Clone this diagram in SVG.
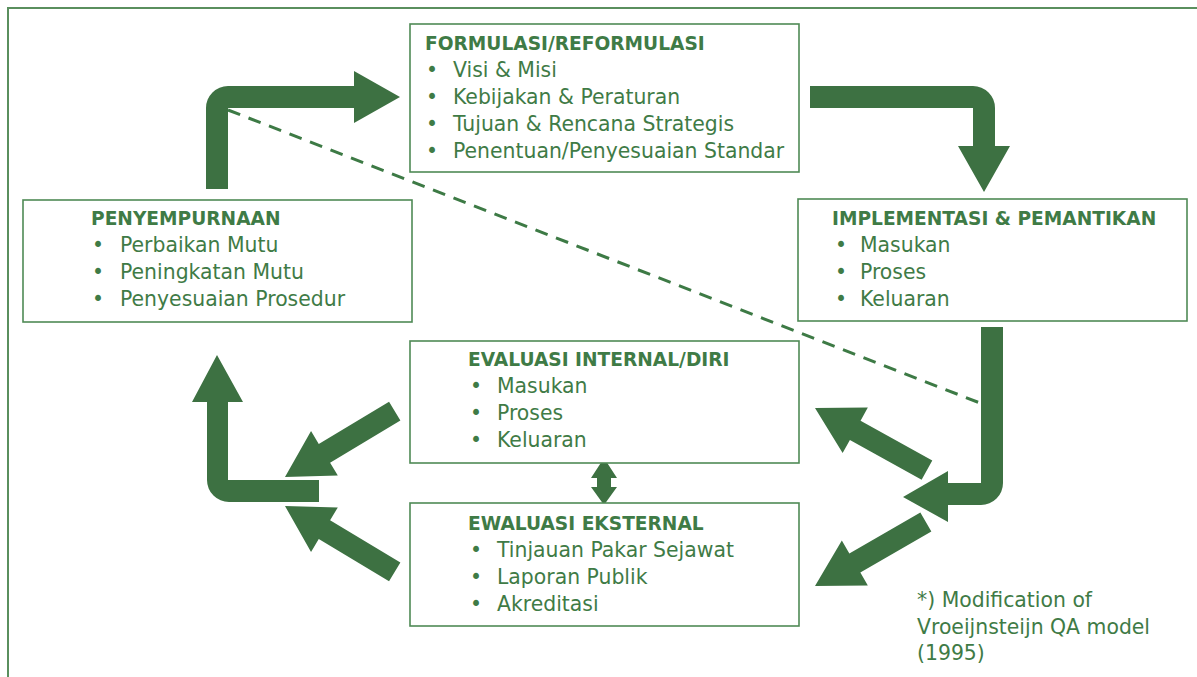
<svg xmlns="http://www.w3.org/2000/svg" width="1197" height="677" viewBox="0 0 1197 677">
<style>
.frame{fill:none;stroke:#5a8f5e;stroke-width:2}
.box{fill:#fff;stroke:#4f8a55;stroke-width:1.6}
.arrow{fill:#3d7142}
.dash{fill:none;stroke:#3d7a45;stroke-width:3;stroke-dasharray:13 9}
text{font-family:"DejaVu Sans",Verdana,sans-serif;fill:#3f7b46;font-size:20.4px}
.t{font-weight:bold;font-size:18.6px}
</style>
<rect width="1197" height="677" fill="#fff"/>
<path class="frame" d="M8,677 V8 H1197"/>
<g id="connectors">
<path class="dash" d="M228,110 L980,403"/>
<path class="arrow" d="M206,189 V108 A22,22 0 0 1 228,86 H354 V71 L400,97 L354,123 V108 H228 V189 Z"/>
<path class="arrow" d="M810,86 H973 A22,22 0 0 1 995,108 V146 H1010 L984,192 L958,146 H973 V108 H810 Z"/>
<path class="arrow" d="M981,327 H1003 V483 A22,22 0 0 1 981,505 H948 V522 L903,497 L948,471 V483 H981 Z"/>
<path class="arrow" d="M319,480 H228 V402 H243 L217,355 L192,402 H207 V480 A22,22 0 0 0 229,502 H319 Z"/>
<path class="arrow" d="M-128,-11 H-46 V-26 L0,0 L-46,26 V11 H-128 Z" transform="translate(815,408) rotate(209)"/>
<path class="arrow" d="M-128,-11 H-46 V-26 L0,0 L-46,26 V11 H-128 Z" transform="translate(815,586) rotate(150)"/>
<path class="arrow" d="M-128,-11 H-46 V-26 L0,0 L-46,26 V11 H-128 Z" transform="translate(285,477) rotate(149)"/>
<path class="arrow" d="M-128,-11 H-46 V-26 L0,0 L-46,26 V11 H-128 Z" transform="translate(285,506) rotate(211)"/>
<path class="arrow" d="M604,458 L617,478 H611 V487 H617 L604,505 L591,487 H597 V478 H591 Z"/>
</g>
<g id="formulasi">
<rect class="box" x="410" y="24" width="389" height="148"/>
<text class="t" x="425" y="50">FORMULASI/REFORMULASI</text>
<text x="426" y="77">•</text><text x="453" y="77">Visi &amp; Misi</text>
<text x="426" y="104">•</text><text x="453" y="104">Kebijakan &amp; Peraturan</text>
<text x="426" y="131">•</text><text x="453" y="131">Tujuan &amp; Rencana Strategis</text>
<text x="426" y="158">•</text><text x="453" y="158">Penentuan/Penyesuaian Standar</text>
</g>
<g id="penyempurnaan">
<rect class="box" x="23" y="200" width="389" height="122"/>
<text class="t" x="91" y="225">PENYEMPURNAAN</text>
<text x="92" y="252">•</text><text x="120" y="252">Perbaikan Mutu</text>
<text x="92" y="279">•</text><text x="120" y="279">Peningkatan Mutu</text>
<text x="92" y="306">•</text><text x="120" y="306">Penyesuaian Prosedur</text>
</g>
<g id="implementasi">
<rect class="box" x="798" y="199" width="389" height="122"/>
<text class="t" x="832" y="225">IMPLEMENTASI &amp; PEMANTIKAN</text>
<text x="835" y="252">•</text><text x="860" y="252">Masukan</text>
<text x="835" y="279">•</text><text x="860" y="279">Proses</text>
<text x="835" y="306">•</text><text x="860" y="306">Keluaran</text>
</g>
<g id="evaluasi-internal">
<rect class="box" x="410" y="341" width="389" height="122"/>
<text class="t" x="468" y="366">EVALUASI INTERNAL/DIRI</text>
<text x="470" y="393">•</text><text x="497" y="393">Masukan</text>
<text x="470" y="420">•</text><text x="497" y="420">Proses</text>
<text x="470" y="447">•</text><text x="497" y="447">Keluaran</text>
</g>
<g id="evaluasi-eksternal">
<rect class="box" x="410" y="503" width="389" height="123"/>
<text class="t" x="468" y="530">EWALUASI EKSTERNAL</text>
<text x="470" y="557">•</text><text x="497" y="557">Tinjauan Pakar Sejawat</text>
<text x="470" y="584">•</text><text x="497" y="584">Laporan Publik</text>
<text x="470" y="611">•</text><text x="497" y="611">Akreditasi</text>
</g>
<g id="note">
<text x="917" y="607">*) Modification of</text>
<text x="917" y="634">Vroeijnsteijn QA model</text>
<text x="917" y="660">(1995)</text>
</g>
</svg>
